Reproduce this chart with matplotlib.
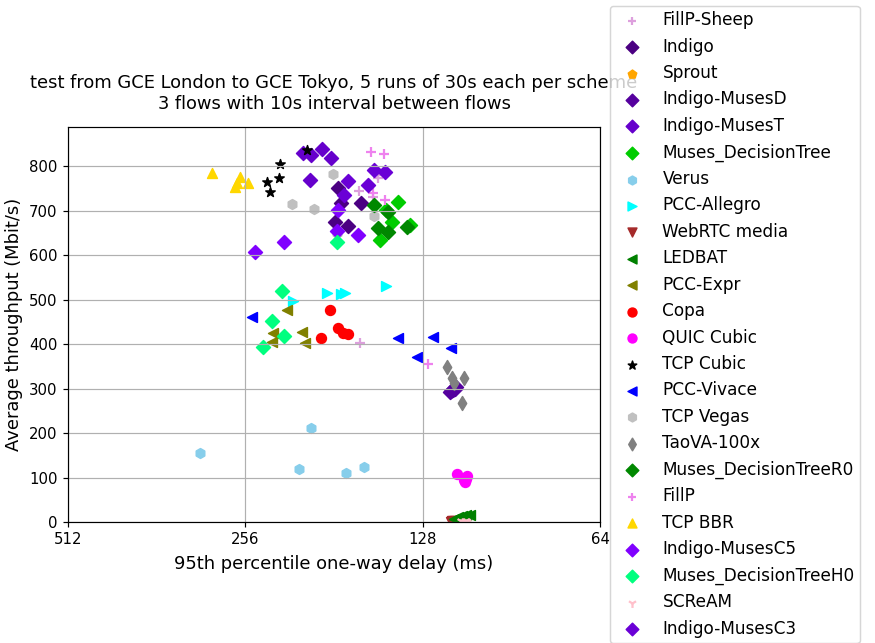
import matplotlib
matplotlib.use("Agg")
import matplotlib.pyplot as plt
from matplotlib import ticker

# delay (ms) / throughput (Mbit/s), one value per run
fillp_sheep_delay = [164.4, 155.7, 152.7, 163.8, 152.7]
fillp_sheep_tput = [744, 730, 780, 402, 773]
indigo_delay = [177.9, 175.8, 163.2, 180.0, 171.1]
indigo_tput = [751, 717, 717, 674, 665]
sprout_delay = [112.0, 111.0, 113.0, 110.5, 112.5]
sprout_tput = [1, 0.5, 1.5, 0.8, 0.3]
musesd_delay = [113.8, 115.2, 112.5, 113.0, 114.5]
musesd_tput = [297, 292, 303, 300, 295]
musest_delay = [204.0, 197.7, 189.4, 183.5, 199.2]
musest_tput = [829, 825, 838, 818, 769]
dtree_delay = [141.2, 144.5, 151.5, 134.7, 148.0]
dtree_tput = [719, 674, 634, 667, 701]
verus_delay = [305.4, 197.7, 207.2, 172.4, 161.3]
verus_tput = [155, 211, 119, 110, 124]
allegro_delay = [212.1, 186.4, 173.7, 148.0, 175.8]
allegro_tput = [497, 515, 515, 530, 512]
webrtc_delay = [114.0, 113.2, 112.6, 114.6, 113.6]
webrtc_tput = [2, 1, 3, 0.5, 1.5]
ledbat_delay = [113.4, 111.6, 109.9, 108.2, 106.5]
ledbat_tput = [7, 11, 13, 16, 16]
expr_delay = [217.2, 229.4, 230.3, 204.8, 202.4]
expr_tput = [476, 425, 404, 427, 402]
copa_delay = [184.2, 190.1, 177.9, 175.1, 171.1]
copa_tput = [476, 414, 436, 425, 422]
quic_delay = [112.1, 107.7, 108.6, 108.2, 109.0]
quic_tput = [108, 103, 90, 97, 95]
cubic_delay = [201.5, 223.3, 224.2, 234.8, 232.9]
cubic_tput = [836, 804, 773, 764, 742]
vivace_delay = [249.1, 141.2, 123.1, 114.7, 131.0]
vivace_tput = [461, 413, 416, 391, 371]
vegas_delay = [181.4, 213.0, 195.4, 155.1, 178.6]
vegas_tput = [782, 715, 703, 688, 649]
taova_delay = [116.5, 114.2, 109.0, 109.9, 113.4]
taova_tput = [348, 324, 324, 267, 312]
dtree_r0_delay = [155.1, 146.8, 152.7, 146.8, 136.3]
dtree_r0_tput = [712, 697, 661, 652, 663]
fillp_delay = [156.9, 149.1, 148.5, 155.7, 125.5]
fillp_tput = [831, 827, 724, 739, 355]
bbr_delay = [291.3, 261.1, 264.2, 266.2, 253.0]
bbr_tput = [784, 775, 762, 753, 762]
musesc5_delay = [177.9, 179.2, 165.1, 219.8, 246.2]
musesc5_tput = [701, 654, 645, 629, 607]
dtree_h0_delay = [221.5, 230.3, 219.8, 238.6, 179.2]
dtree_h0_tput = [519, 452, 418, 393, 629]
scream_delay = [109.5, 108.5, 107.5, 110.2, 108.0]
scream_tput = [1, 1.5, 0.8, 2, 1.2]
musesc3_delay = [171.7, 174.4, 158.2, 155.1, 148.5]
musesc3_tput = [766, 735, 757, 791, 787]

# label, delays, throughputs, colour, marker (plot order = legend order)
schemes = [
    ("FillP-Sheep", fillp_sheep_delay, fillp_sheep_tput, "plum", "+"),
    ("Indigo", indigo_delay, indigo_tput, "#4B0082", "D"),
    ("Sprout", sprout_delay, sprout_tput, "orange", "p"),
    ("Indigo-MusesD", musesd_delay, musesd_tput, "#55009E", "D"),
    ("Indigo-MusesT", musest_delay, musest_tput, "#6600CC", "D"),
    ("Muses_DecisionTree", dtree_delay, dtree_tput, "#00CC00", "D"),
    ("Verus", verus_delay, verus_tput, "skyblue", "h"),
    ("PCC-Allegro", allegro_delay, allegro_tput, "cyan", ">"),
    ("WebRTC media", webrtc_delay, webrtc_tput, "brown", "v"),
    ("LEDBAT", ledbat_delay, ledbat_tput, "green", "<"),
    ("PCC-Expr", expr_delay, expr_tput, "olive", "<"),
    ("Copa", copa_delay, copa_tput, "red", "o"),
    ("QUIC Cubic", quic_delay, quic_tput, "magenta", "o"),
    ("TCP Cubic", cubic_delay, cubic_tput, "black", "*"),
    ("PCC-Vivace", vivace_delay, vivace_tput, "blue", "<"),
    ("TCP Vegas", vegas_delay, vegas_tput, "silver", "h"),
    ("TaoVA-100x", taova_delay, taova_tput, "grey", "d"),
    ("Muses_DecisionTreeR0", dtree_r0_delay, dtree_r0_tput, "#008800", "D"),
    ("FillP", fillp_delay, fillp_tput, "violet", "+"),
    ("TCP BBR", bbr_delay, bbr_tput, "gold", "^"),
    ("Indigo-MusesC5", musesc5_delay, musesc5_tput, "#8000FF", "D"),
    ("Muses_DecisionTreeH0", dtree_h0_delay, dtree_h0_tput, "springgreen", "D"),
    ("SCReAM", scream_delay, scream_tput, "pink", "1"),
    ("Indigo-MusesC3", musesc3_delay, musesc3_tput, "#6A00D6", "D"),
]

dpi = 107
fig = plt.figure(figsize=(875 / dpi, 643 / dpi), dpi=dpi)
ax = fig.add_axes([68 / 875, 121 / 643, 532 / 875, 395 / 643])

for label, xs, ys, color, marker in schemes:
    ax.scatter(xs, ys, s=44, color=color, marker=marker, label=label)

ax.set_xscale("log", base=2)
ax.set_xlim(512, 64)
ax.set_xticks([512, 256, 128, 64])
ax.xaxis.set_major_formatter(ticker.FormatStrFormatter("%d"))
ax.xaxis.set_minor_locator(ticker.NullLocator())
ax.set_ylim(0, 888)
ax.set_yticks(range(0, 900, 100))
ax.tick_params(labelsize=10)

ax.set_xlabel("95th percentile one-way delay (ms)", fontsize=12, labelpad=5)
ax.set_ylabel("Average throughput (Mbit/s)", fontsize=12)
ax.set_title("test from GCE London to GCE Tokyo, 5 runs of 30s each per scheme\n"
             "3 flows with 10s interval between flows", fontsize=12, pad=12)
ax.grid()

ax.legend(scatterpoints=1, bbox_to_anchor=(1, 0.5), loc="center left",
          fontsize=11.35, markerscale=0.9, borderaxespad=0.6, borderpad=0.3)

fig.savefig("out.png", dpi=dpi)
